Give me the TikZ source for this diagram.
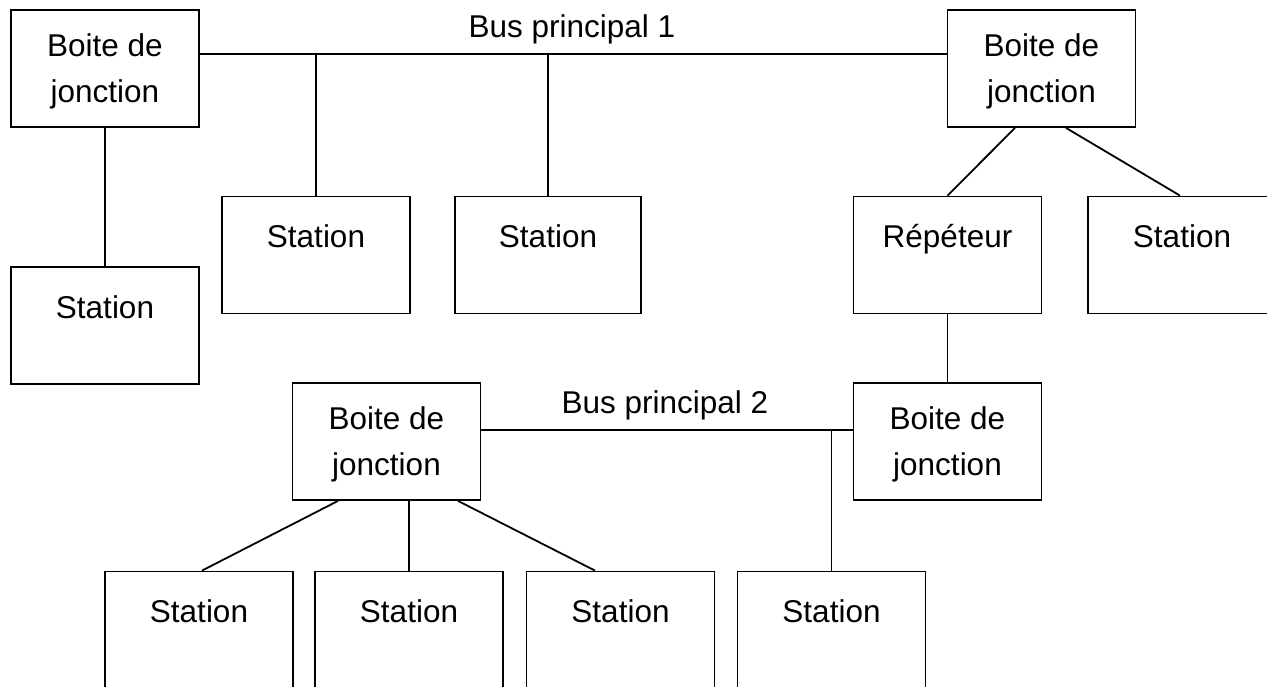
\documentclass[tikz,border=0pt]{standalone}
\usepackage{fontspec}
\setmainfont{Liberation Sans}
\begin{document}
\begin{tikzpicture}[x=1pt,y=-1pt,
  box/.style={draw, line width=1.8pt, minimum width=188pt, minimum height=117pt, inner sep=0pt},
  lbl/.style={anchor=base, inner sep=0pt, font=\fontsize{31.5}{38}\selectfont},
  wire/.style={line width=1.8pt}]
\useasboundingbox (0,0) rectangle (1267,686);
\clip (0,0) rectangle (1267,686);

% junction boxes
\node[box] (j1) at (105,68.5) {};
\node[box] (j2) at (1041.5,68.5) {};
\node[box] (j3) at (947.5,441.5) {};
\node[box] (j4) at (386.5,441.5) {};

% stations and repeater
\node[box] (sa) at (105,325.5) {};
\node[box] (sb) at (316,255) {};
\node[box, minimum width=186pt] (sc) at (548,255) {};
\node[box] (rep) at (947.5,255) {};
\node[box] (sd) at (1182,255) {};
\node[box] (se) at (199,630) {};
\node[box] (sf) at (409,630) {};
\node[box] (sg) at (620.5,630) {};
\node[box] (sh) at (831.5,630) {};

% box texts
\foreach \j in {j1,j2,j3,j4}{
  \node[lbl] at ([yshift=-47pt]\j.north) {Boite de};
  \node[lbl] at ([yshift=-93pt]\j.north) {jonction};
}
\foreach \s in {sa,sb,sc,sd,se,sf,sg,sh}{
  \node[lbl] at ([yshift=-52pt]\s.north) {Station};
}
\node[lbl] at ([yshift=-52pt]rep.north) {Répéteur};

% main bus 1
\coordinate (bus1) at (315,54);
\draw[wire] (j1.east |- bus1) -- (j2.west |- bus1);
\node[lbl] (bus1lbl) at (572,37) {Bus principal 1};
\draw[wire] (sb.north |- bus1) -- (sb.north);
\draw[wire] (sc.north |- bus1) -- (sc.north);
\draw[wire] (j1.south) -- (sa.north);
\draw[wire] ([xshift=-26.5pt]j2.south) -- (rep.north);
\draw[wire] ([xshift=24.5pt]j2.south) -- ([xshift=-2pt]sd.north);
\draw[wire] (rep.south) -- (j3.north);

% main bus 2
\coordinate (bus2) at (832,430);
\draw[wire] (j4.east |- bus2) -- (j3.west |- bus2);
\node[lbl] (bus2lbl) at (665,413) {Bus principal 2};
\draw[wire] (sh.north |- bus2) -- (sh.north);
\draw[wire] ([xshift=-48.5pt]j4.south) -- ([xshift=3pt]se.north);
\draw[wire] (sf.north |- j4.south) -- (sf.north);
\draw[wire] ([xshift=71.5pt]j4.south) -- ([xshift=-25.5pt]sg.north);
\end{tikzpicture}
\end{document}
